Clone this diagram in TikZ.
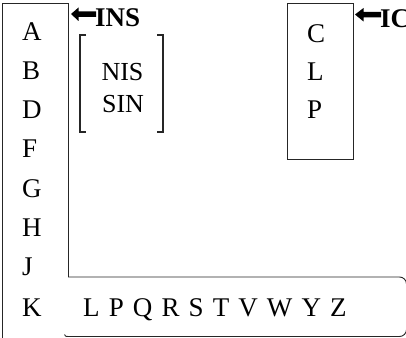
\documentclass[tikz,border=0pt]{standalone}
\usepackage{fontspec}
\setmainfont{Liberation Serif}
\newfontfamily\rowfont[WordSpace=1.35]{Liberation Serif}
\begin{document}
\begin{tikzpicture}[x=1pt,y=-1pt,
  ln/.style={line width=0.9pt,draw=black!85},
  br/.style={line width=1.3pt,draw=black!85},
  lt/.style={inner sep=0pt,anchor=base west,font=\fontsize{27}{30}\selectfont},
  ct/.style={inner sep=0pt,anchor=base,font=\fontsize{26}{30}\selectfont},
  bt/.style={inner sep=0pt,anchor=base west,font=\fontsize{27}{30}\selectfont\bfseries},
  fatarrow/.style={fill=black,draw=none}]
\useasboundingbox (0,0) rectangle (406,337);
\clip (0,0) rectangle (406,337);
\fill[white] (0,0) rectangle (406,337);
% left box
\coordinate (lbA) at (68,277);
\coordinate (lbB) at (68,3);
\coordinate (lbC) at (2.5,3);
\coordinate (lbD) at (2.5,342);
\draw[ln] (lbA) -- (lbB) -- (lbC) -- (lbD);
% bottom rounded box
\coordinate (bbA) at (68,277);
\coordinate (bbB) at (406.5,277);
\coordinate (bbC) at (406.5,336.5);
\coordinate (bbD) at (68,336.5);
\draw[ln,rounded corners=7pt] (bbA) -- (bbB) -- (bbC) -- (bbD);
\draw[ln] (bbD) .. controls (65.5,336.5) .. (64.5,334.5);
% right box
\node[ln,draw,minimum width=66pt,minimum height=156pt,inner sep=0pt,anchor=north west] (rbox) at (287,3) {};
% left column letters
\node[lt] (A) at (22,41) {A};
\node[lt] (B) at (22,79.5) {B};
\node[lt] (D) at (22,118.5) {D};
\node[lt] (F) at (22,157) {F};
\node[lt] (G) at (22,197) {G};
\node[lt] (H) at (22,236) {H};
\node[lt] (J) at (22,275) {J};
\node[lt] (K) at (22,316.5) {K};
% right column
\node[lt] (C) at (307,42) {C};
\node[lt] (L) at (307,80) {L};
\node[lt] (P) at (307,118) {P};
% bracket
\coordinate (b1) at (86,35); \coordinate (b2) at (80,35);
\coordinate (b3) at (80,132); \coordinate (b4) at (86,132);
\draw[br] (b1) -- (b2) -- (b3) -- (b4);
\coordinate (c1) at (157,35); \coordinate (c2) at (163,35);
\coordinate (c3) at (163,132); \coordinate (c4) at (157,132);
\draw[br] (c1) -- (c2) -- (c3) -- (c4);
\node[ct] (nis) at (122.5,80) {NIS};
\node[ct] (sin) at (123,112) {SIN};
% bottom row
\node[lt,font=\fontsize{27}{30}\rowfont] (row) at (83,316) {L P Q R S T V W Y Z};
% INS arrow and label
\node[bt] (ins) at (95,27) {INS};
\fill[fatarrow] (71,14) -- (78.5,7.5) -- (78.5,11.5) -- (96,11.5) -- (96,17) -- (78.5,17) -- (78.5,21) -- cycle;
% IC arrow and label
\node[bt] (ic) at (380,28) {IC};
\fill[fatarrow] (355,14.5) -- (363.5,8) -- (363.5,12) -- (381,12) -- (381,17.5) -- (363.5,17.5) -- (363.5,21.5) -- cycle;
\end{tikzpicture}
\end{document}
